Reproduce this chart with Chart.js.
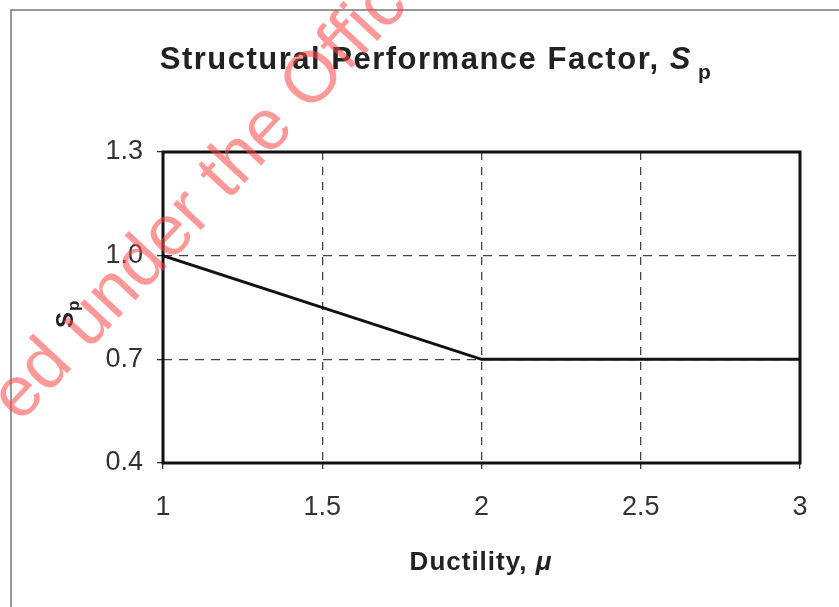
<!DOCTYPE html>
<html>
<head>
<meta charset="utf-8">
<script src="https://cdn.jsdelivr.net/npm/chart.js@4.4.1/dist/chart.umd.min.js"></script>
<style>
  html, body { margin: 0; padding: 0; background: #fff; }
  #wrap { width: 839px; height: 607px; }
</style>
</head>
<body>
<div id="wrap"><canvas id="sp"></canvas></div>
<script>
// values
const ductility = [1, 2, 3];
const spValues = [1.0, 0.7, 0.7];
const xTicks = [1, 1.5, 2, 2.5, 3];
const yTicks = [0.4, 0.7, 1.0, 1.3];

const FONT = "'Liberation Sans', Arial, sans-serif";

// draws runs of text ([text, font, dy, gap]) one after another
function drawRuns(ctx, runs, cx, base, spacing) {
  ctx.letterSpacing = spacing;
  let total = 0;
  runs.forEach(r => { ctx.font = r[1]; r.w = ctx.measureText(r[0]).width; total += r.w + (r[3] || 0); });
  let x = cx - total / 2;
  runs.forEach(r => { ctx.font = r[1]; ctx.fillText(r[0], x, base + r[2]); x += r.w + (r[3] || 0); });
  ctx.letterSpacing = '0px';
}

// frame, titles and the red stamp across the scan
const extras = {
  id: 'extras',
  afterDraw(chart) {
    const ctx = chart.ctx;
    const a = chart.chartArea;
    ctx.save();
    // outer chart border (only top + left visible in the scan)
    ctx.strokeStyle = '#777';
    ctx.lineWidth = 1.5;
    ctx.beginPath();
    ctx.moveTo(11, 607);
    ctx.lineTo(11, 10);
    ctx.lineTo(839, 10);
    ctx.stroke();

    // plot box
    ctx.strokeStyle = '#111';
    ctx.lineWidth = 3;
    ctx.strokeRect(a.left, a.top, a.right - a.left, a.bottom - a.top);

    ctx.fillStyle = '#222';
    ctx.textBaseline = 'alphabetic';
    // main title with subscript
    drawRuns(ctx, [
      ['Structural Performance Factor, ', 'bold 31px ' + FONT, 0],
      ['S', 'italic bold 31px ' + FONT, 0, 6],
      ['p', 'bold 21px ' + FONT, 10]
    ], 436, 69, '1.5px');

    // x axis title
    drawRuns(ctx, [
      ['Ductility, ', 'bold 26px ' + FONT, 0],
      ['μ', 'italic bold 26px ' + FONT, 0]
    ], 481, 570, '1px');

    // y axis title, rotated
    ctx.save();
    ctx.translate(73, 328);
    ctx.rotate(-Math.PI / 2);
    ctx.font = 'bold 24px ' + FONT;
    ctx.fillText('S', 0, 0);
    const ws = ctx.measureText('S').width;
    ctx.font = 'bold 17px ' + FONT;
    ctx.fillText('p', ws + 1, 6);
    ctx.restore();

    // watermark
    ctx.save();
    ctx.translate(20, 424);
    ctx.rotate(-47 * Math.PI / 180);
    ctx.font = '72px ' + FONT;
    ctx.fillStyle = 'rgba(255, 70, 70, 0.55)';
    ctx.fillText('ed under the Office', 0, 0);
    ctx.restore();

    ctx.restore();
  }
};

new Chart(document.getElementById('sp'), {
  type: 'line',
  data: {
    datasets: [{
      data: ductility.map((d, i) => ({ x: d, y: spValues[i] })),
      borderColor: '#111',
      borderWidth: 3,
      pointRadius: 0,
      tension: 0,
      fill: false
    }]
  },
  options: {
    responsive: true,
    maintainAspectRatio: false,
    animation: false,
    layout: { padding: { left: 0, right: 39, top: 152, bottom: 0 } },
    plugins: {
      legend: { display: false },
      title: { display: false },
      tooltip: { enabled: false }
    },
    scales: {
      x: {
        type: 'linear',
        min: 1,
        max: 3,
        afterBuildTicks: s => { s.ticks = xTicks.map(v => ({ value: v })); },
        afterFit: s => { s.height = 144; },
        ticks: {
          color: '#333',
          font: { family: FONT, size: 27 },
          padding: 22,
          maxRotation: 0,
          callback: v => String(v)
        },
        grid: {
          color: '#444',
          lineWidth: 1.3,
          tickLength: 6,
          tickColor: '#333',
          tickBorderDash: []
        },
        border: { display: false, dash: [8, 7] }
      },
      y: {
        type: 'linear',
        min: 0.4,
        max: 1.3,
        afterBuildTicks: s => { s.ticks = yTicks.map(v => ({ value: v })); },
        afterFit: s => { s.width = 163; },
        ticks: {
          color: '#333',
          font: { family: FONT, size: 27 },
          padding: 14,
          callback: v => v.toFixed(1)
        },
        grid: {
          color: '#444',
          lineWidth: 1.3,
          tickLength: 6,
          tickColor: '#333',
          tickBorderDash: []
        },
        border: { display: false, dash: [9, 7] }
      }
    }
  },
  plugins: [extras]
});
</script>
</body>
</html>
